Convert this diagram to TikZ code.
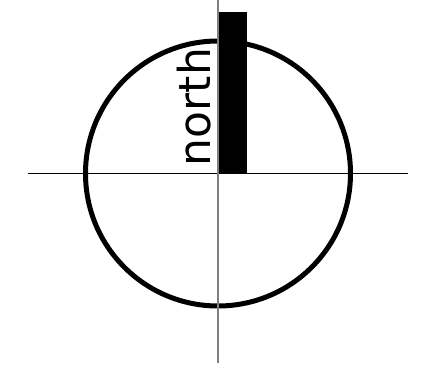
\documentclass[tikz,border=0pt]{standalone}
\usepackage{fontspec}
\newfontfamily\labelfont{DejaVu Sans}
\begin{document}
\begin{tikzpicture}[x=1pt,y=1pt,
  axis/.style={line width=1.2pt},
  vaxis/.style={line width=1.2pt, draw=gray},
  ring/.style={line width=5pt},
  bar/.style={fill=black, draw=none, inner sep=0pt, minimum width=28.7pt, minimum height=161.5pt, anchor=south west}]
\useasboundingbox (-218,-195.5) rectangle (216,173.5);
\coordinate (O) at (0,0);
\coordinate (L) at (-190,0);
\coordinate (R) at (190,0);
\coordinate (T) at (0,173.5);
\coordinate (B) at (0,-189.5);
\draw[ring] (O) circle (132.5);
\node[bar] (barnode) at (0,-0.5) {};
\draw[axis] (L) -- (R);
\draw[vaxis] (T) -- (B);
\node[rotate=90, anchor=base, inner sep=0pt, font=\labelfont\fontsize{44}{44}\selectfont] (lbl) at (-7,66.5) {north};
\end{tikzpicture}
\end{document}
